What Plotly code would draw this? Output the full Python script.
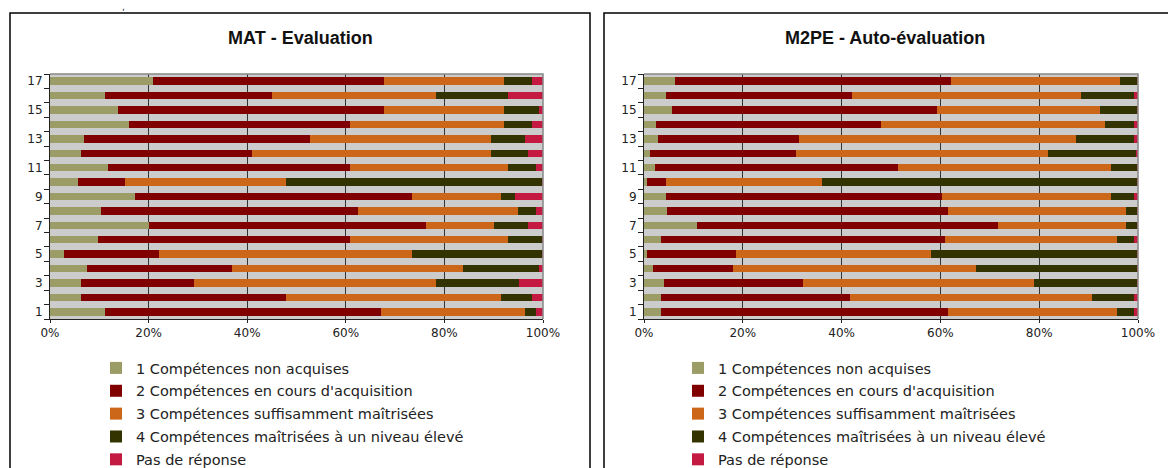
import plotly.graph_objects as go

W, H = 1168, 468

categories = list(range(1, 18))
series_names = [
    "1 Compétences non acquises",
    "2 Compétences en cours d'acquisition",
    "3 Compétences suffisamment maîtrisées",
    "4 Compétences maîtrisées à un niveau élevé",
    "Pas de réponse",
]
colors = ["#9c9c66", "#800000", "#cc6619", "#333300", "#c41a42"]

# MAT - Evaluation, categories 1..17
mat_1 = [11.1, 6.3, 6.2, 7.6, 2.9, 9.8, 20.1, 10.4, 17.3, 5.6, 11.8, 6.2, 6.8, 16.0, 13.8, 11.1, 20.9]
mat_2 = [56.1, 41.5, 23.0, 29.3, 19.3, 51.1, 56.2, 52.0, 56.1, 9.7, 49.1, 34.8, 45.9, 44.9, 54.0, 33.9, 46.9]
mat_3 = [29.1, 43.6, 49.1, 46.9, 51.2, 31.9, 13.7, 32.5, 18.0, 32.6, 31.9, 48.4, 36.7, 31.1, 24.2, 33.3, 24.2]
mat_4 = [2.2, 6.4, 16.8, 15.3, 26.5, 7.1, 6.9, 3.6, 2.9, 51.9, 5.7, 7.5, 6.9, 5.8, 7.1, 14.5, 5.8]
mat_5 = [1.5, 2.2, 4.9, 0.9, 0.1, 0.1, 3.1, 1.5, 5.7, 0.2, 1.5, 3.1, 3.7, 2.2, 0.9, 7.2, 2.2]

# M2PE - Auto-évaluation, categories 1..17
m2pe_1 = [3.5, 3.5, 4.1, 1.8, 0.6, 3.5, 10.7, 4.7, 4.5, 0.6, 2.3, 1.3, 2.9, 2.5, 5.7, 4.5, 6.3]
m2pe_2 = [58.1, 38.1, 28.0, 16.2, 18.1, 57.5, 61.0, 56.9, 55.9, 3.9, 49.2, 29.5, 28.4, 45.4, 53.6, 37.6, 55.9]
m2pe_3 = [34.2, 49.0, 46.8, 49.2, 39.4, 34.8, 25.8, 35.9, 34.2, 31.5, 43.1, 51.0, 56.1, 45.5, 33.1, 46.3, 34.1]
m2pe_4 = [3.3, 8.5, 20.9, 32.6, 41.7, 3.3, 2.3, 2.3, 4.5, 63.8, 5.2, 17.8, 11.7, 5.7, 7.4, 10.7, 3.5]
m2pe_5 = [0.9, 0.9, 0.2, 0.2, 0.2, 0.9, 0.2, 0.2, 0.9, 0.2, 0.2, 0.4, 0.9, 0.9, 0.2, 0.9, 0.2]

y_ticks = [1, 3, 5, 7, 9, 11, 13, 15, 17]
x_ticks = [0, 0.2, 0.4, 0.6, 0.8, 1.0]
x_ticklabels = ["0%", "20%", "40%", "60%", "80%", "100%"]

mat = [mat_1, mat_2, mat_3, mat_4, mat_5]
m2pe = [m2pe_1, m2pe_2, m2pe_3, m2pe_4, m2pe_5]

fig = go.Figure()
for i, (name, vals) in enumerate(zip(series_names, mat)):
    fig.add_trace(go.Bar(y=categories, x=vals, name=name, orientation="h",
                         marker=dict(color=colors[i], line=dict(width=0)),
                         xaxis="x", yaxis="y", legend="legend",
                         legendgroup="a%d" % i, hoverinfo="skip"))
for i, (name, vals) in enumerate(zip(series_names, m2pe)):
    fig.add_trace(go.Bar(y=categories, x=vals, name=name, orientation="h",
                         marker=dict(color=colors[i], line=dict(width=0)),
                         xaxis="x2", yaxis="y2", legend="legend2",
                         legendgroup="b%d" % i, hoverinfo="skip"))

def px_x(p):
    return p / W

def px_y(p):
    return 1 - p / H

ydom = [px_y(319), px_y(74)]
font_ax = dict(family="DejaVu Sans, Verdana, sans-serif", size=12, color="#222")
font_leg = dict(family="DejaVu Sans, Verdana, sans-serif", size=14.5, color="#222")
font_title = dict(family="Liberation Sans, Arial, sans-serif", size=18, color="#111")

xcommon = dict(range=[0, 1], tickvals=x_ticks, ticktext=x_ticklabels,
               showgrid=True, gridcolor="#333333", gridwidth=1,
               showline=True, linecolor="#222", linewidth=1,
               ticks="outside", ticklen=3, tickcolor="#222",
               tickfont=font_ax, zeroline=False, fixedrange=True,
               automargin=False)
ycommon = dict(range=[0.5, 17.5], tickvals=y_ticks, ticks="",
               showgrid=False, showline=True, linecolor="#222", linewidth=1,
               tickfont=font_ax, zeroline=False, fixedrange=True,
               automargin=False, ticklabelstandoff=4,
               minor=dict(tickvals=[k + 0.5 for k in range(0, 18)],
                          ticks="outside", ticklen=5, tickcolor="#222"))

wall_edges = []
for xr, yr in (("x domain", "y domain"), ("x2 domain", "y2 domain")):
    wall_edges.append(dict(type="path", xref=xr, yref=yr,
                           path="M 0,1 L 1,1 L 1,0",
                           line=dict(color="#888888", width=1.5)))

fig.update_layout(
    template="none",
    width=W, height=H, autosize=False,
    margin=dict(l=0, r=0, t=0, b=0, pad=0, autoexpand=False),
    paper_bgcolor="white",
    plot_bgcolor="#cccccc",
    font=dict(family="DejaVu Sans, Verdana, sans-serif", color="#222"),
    barmode="stack", barnorm="fraction", bargap=0.48,
    showlegend=True,
    xaxis=dict(domain=[px_x(50), px_x(543)], anchor="y", **xcommon),
    yaxis=dict(domain=ydom, anchor="x", **ycommon),
    xaxis2=dict(domain=[px_x(644), px_x(1138)], anchor="y2", **xcommon),
    yaxis2=dict(domain=ydom, anchor="x2", **ycommon),
    legend=dict(x=px_x(96), y=px_y(352), xanchor="left", yanchor="top",
                traceorder="grouped", tracegroupgap=1,
                font=font_leg, bgcolor="rgba(0,0,0,0)", itemclick=False),
    legend2=dict(x=px_x(678), y=px_y(352), xanchor="left", yanchor="top",
                 traceorder="grouped", tracegroupgap=1,
                 font=font_leg, bgcolor="rgba(0,0,0,0)", itemclick=False),
    shapes=wall_edges + [
        dict(type="rect", xref="paper", yref="paper",
             x0=px_x(10), x1=px_x(590), y0=px_y(480), y1=px_y(13),
             line=dict(color="black", width=1.5), fillcolor="rgba(0,0,0,0)"),
        dict(type="rect", xref="paper", yref="paper",
             x0=px_x(604), x1=px_x(1175), y0=px_y(480), y1=px_y(13),
             line=dict(color="black", width=1.5), fillcolor="rgba(0,0,0,0)"),
    ],
    annotations=[
        dict(text="<b>MAT - Evaluation</b>", xref="paper", yref="paper",
             x=px_x(300), y=px_y(38), xanchor="center", yanchor="middle",
             showarrow=False, font=font_title),
        dict(text="<b>M2PE - Auto-évaluation</b>", xref="paper", yref="paper",
             x=px_x(885), y=px_y(38), xanchor="center", yanchor="middle",
             showarrow=False, font=font_title),
        dict(text=",", xref="paper", yref="paper", x=px_x(123), y=1.0,
             xanchor="center", yanchor="top",
             showarrow=False, font=dict(family="DejaVu Sans", size=9, color="#222")),
    ],
)

fig.write_html(
    "out.html",
    config={"displayModeBar": False, "responsive": False},
    post_script="document.body.style.margin='0';document.body.style.overflow='hidden';",
)
